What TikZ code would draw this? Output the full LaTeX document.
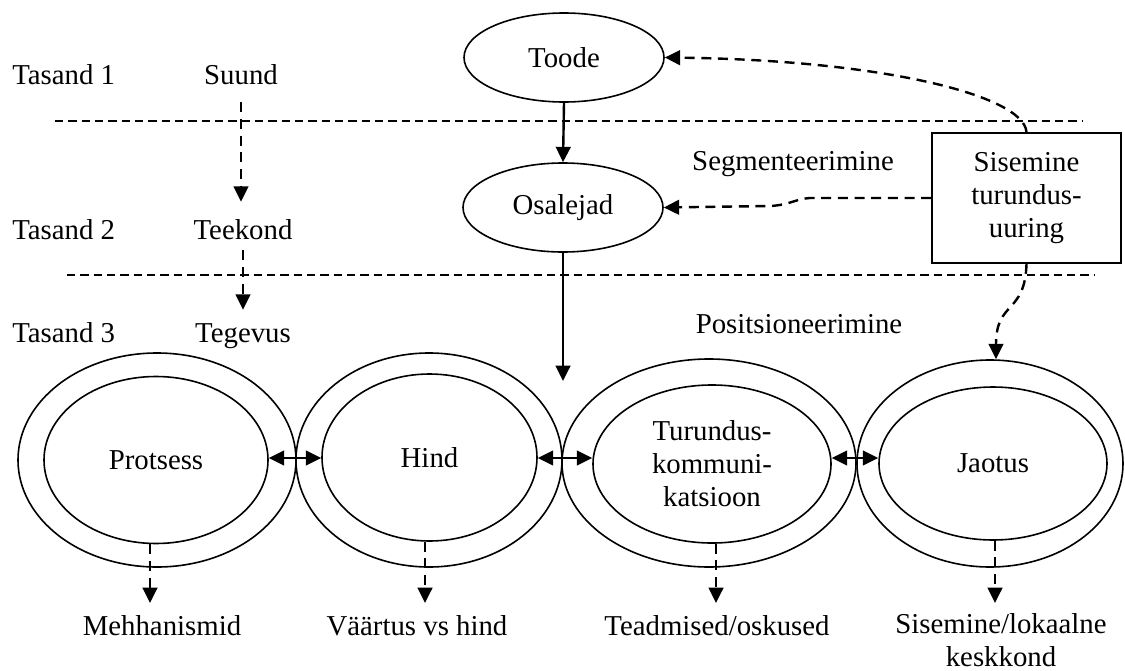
\documentclass[tikz,border=0pt]{standalone}
\usepackage{fontspec}
\setmainfont{Liberation Serif}
\usetikzlibrary{shapes.geometric,arrows.meta}

\begin{document}
\begin{tikzpicture}[x=0.75pt,y=-0.75pt,
  every node/.style={font=\fontsize{21.6pt}{24.75pt}\selectfont},
  lbl/.style={inner sep=0pt, text height=15pt, text depth=4.5pt, anchor=base},
  ell/.style={draw, ellipse, line width=1.2pt, inner sep=0pt},
  level/.style={line width=0.9pt, dash pattern=on 6.25pt off 3.75pt},
  con/.style={line width=1.8pt, -{Triangle[length=11.5pt,width=11pt]}},
  dcon/.style={con, dash pattern=on 7.5pt off 5pt},
  both/.style={line width=1.8pt, {Triangle[length=11.5pt,width=11pt]}-{Triangle[length=11.5pt,width=11pt]}},
]
\fill[white] (0,0) rectangle (1125,671);
\useasboundingbox (0,0) rectangle (1125,671);

% level separators
\draw[level] (55,121) -- (1082,121);
\draw[level] (67,275) -- (1095,275);

% level names and the left-hand chain
\node[lbl, anchor=base west] (t1) at (12,84) {Tasand 1};
\node[lbl, anchor=base west] (t2) at (12,239) {Tasand 2};
\node[lbl, anchor=base west] (t3) at (12,342) {Tasand 3};
\node[lbl] (suund) at (241,84) {Suund};
\node[lbl] (teekond) at (243,239) {Teekond};
\node[lbl] (tegevus) at (243,342) {Tegevus};

\draw[dcon, shorten <=9pt, shorten >=12.75pt] (suund.south) -- (suund.south |- teekond.north);
\draw[dcon, shorten <=3.75pt, shorten >=9pt] (teekond.south) -- (tegevus.north);

% upper part
\node[ell, minimum width=150pt, minimum height=66.75pt] (toode) at (564,57.5) {Toode};
\node[ell, minimum width=150pt, minimum height=66.75pt] (osal) at (563,207.5) {Osalejad};
\node[draw, line width=1.2pt, minimum width=141.75pt, minimum height=97.5pt, align=center]
  (sis) at (1026.5,198) {Sisemine\\turundus-\\uuring};
\node[lbl] (segm) at (793,170) {Segmenteerimine};
\node[lbl] (posit) at (799,333) {Positsioneerimine};

% the four rings
\node[ell, minimum width=208.5pt, minimum height=160.5pt] (pout) at (157,460) {};
\node[ell, minimum width=168pt, minimum height=125.25pt] (pin) at (156,460) {Protsess};
\node[ell, minimum width=199.5pt, minimum height=160.5pt] (hout) at (429,460) {};
\node[ell, minimum width=161.25pt, minimum height=125.25pt] (hin) at (429.5,457.5) {Hind};
\node[ell, minimum width=220.5pt, minimum height=156pt] (tout) at (709,463) {};
\node[ell, minimum width=178.5pt, minimum height=118.5pt, align=center] (tin) at (712,464)
  {Turundus-\\kommuni-\\katsioon};
\node[ell, minimum width=199.5pt, minimum height=155.25pt] (jout) at (990,463.5) {};
\node[ell, minimum width=171pt, minimum height=114.75pt] (jin) at (993,463.5) {Jaotus};

% outcomes
\node[lbl] (mech) at (162,635) {Mehhanismid};
\node[lbl] (vaar) at (417,635) {Väärtus vs hind};
\node[lbl] (tead) at (717,635) {Teadmised/oskused};
\node[align=center, inner sep=0pt] (lok) at (1001,640) {Sisemine/lokaalne\\keskkond};

% connectors of the upper part
\draw[con] (toode.south) -- (osal.north);
\coordinate (drop) at (563,381);
\draw[con] (osal.south) -- (drop);
\draw[dcon] (sis.north) .. controls (1024,95) and (880,60) .. (toode.east);
\draw[dcon] (sis.west) -- (810,198) .. controls (795,199) and (790,205) .. (770,206) -- (osal.east);
\draw[dcon] (sis.south) .. controls (1025,315) and (996,300) .. ([xshift=4.5pt]jout.north);

% links between the rings
\coordinate (row) at (0,458);
\draw[both] (pin.east |- row) -- (hin.west |- row);
\draw[both] (hin.east |- row) -- (tin.west |- row);
\draw[both] (tin.east |- row) -- (jin.west |- row);

% rings to outcomes
\coordinate (d1) at (150,603);
\coordinate (d2) at (425,603);
\coordinate (d3) at (716,603);
\coordinate (d4) at (995,603);
\draw[dcon] (d1 |- pin.south) -- (d1);
\draw[dcon] (d2 |- hin.south) -- (d2);
\draw[dcon] (d3 |- tin.south) -- (d3);
\draw[dcon] (d4 |- jin.south) -- (d4);
\end{tikzpicture}
\end{document}
